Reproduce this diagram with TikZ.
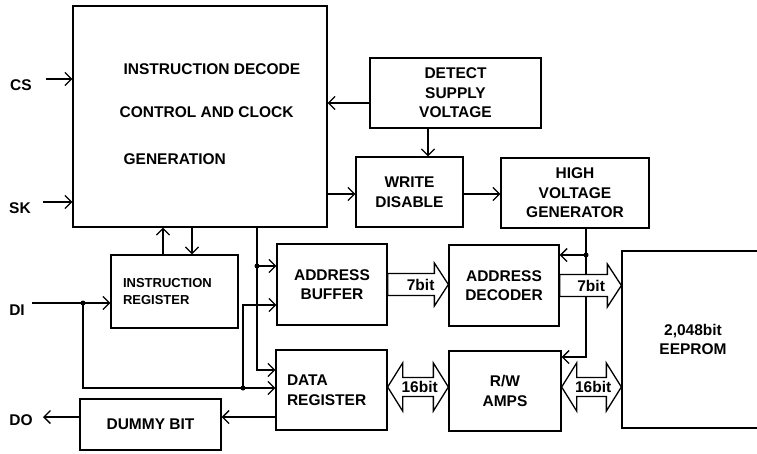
\documentclass[tikz,border=0pt]{standalone}
\usepackage{fontspec}
\setmainfont{Liberation Sans}
\usetikzlibrary{arrows.meta,calc}
\begin{document}
\begin{tikzpicture}[x=1pt,y=-1pt, line width=1.3pt,
 txt/.style={font=\fontsize{15.5}{19.5}\selectfont\bfseries},
 box/.style={draw, rectangle, inner sep=0pt, align=center, txt},
 lbl/.style={txt, inner sep=0pt},
 arr/.style={-{Straight Barb[length=6.5pt,width=13pt]}},
 dot/.style={circle, fill, inner sep=0pt, minimum size=5pt},
 fat/.style={draw, fill=white, line join=miter}]
\useasboundingbox (0,0) rectangle (757,453);
% boxes
\node[box, minimum width=254pt, minimum height=221pt] (main) at (200,116.5) {};
\node[lbl, anchor=west] (t1) at (123,69.5) {INSTRUCTION DECODE};
\node[lbl, anchor=west] (t2) at (119,112) {CONTROL AND CLOCK};
\node[lbl, anchor=west] (t3) at (123,159.5) {GENERATION};
\node[box, minimum width=171pt, minimum height=70pt] (detect) at (455.5,93) {DETECT\\SUPPLY\\VOLTAGE};
\node[box, minimum width=107pt, minimum height=70pt] (write) at (409.5,192) {WRITE\\DISABLE};
\node[box, minimum width=148pt, minimum height=70pt] (hv) at (575,193) {HIGH\\VOLTAGE\\GENERATOR};
\node[box, minimum width=127pt, minimum height=73pt, align=left, text width=103pt, inner xsep=12pt,
      font=\fontsize{13}{17}\selectfont\bfseries] (ir) at (174.5,291.5) {INSTRUCTION\\REGISTER};
\node[box, minimum width=110pt, minimum height=81pt] (ab) at (332,284.5) {ADDRESS\\BUFFER};
\node[box, minimum width=110pt, minimum height=81pt] (ad) at (504,285.5) {ADDRESS\\DECODER};
\node[box, minimum width=111pt, minimum height=80pt, align=left, text width=89pt, inner xsep=11pt] (dr) at (331.5,390) {DATA\\REGISTER};
\node[box, minimum width=112pt, minimum height=80pt] (rw) at (505,391) {R/W\\AMPS};
\node[box, minimum width=142pt, minimum height=177pt] (ee) at (693,339.5) {2,048bit\\EEPROM};
\node[box, minimum width=141pt, minimum height=51pt] (dummy) at (150.5,424.5) {DUMMY BIT};
% pin labels
\node[lbl] (CS) at (21,85) {CS};
\node[lbl] (SK) at (20,208) {SK};
\node[lbl] (DI) at (17,310) {DI};
\node[lbl] (DO) at (21,420) {DO};
% helper coordinates
\coordinate (csin) at (46,79);
\coordinate (skin) at (43,202);
\coordinate (diin) at (32,303);
\coordinate (doout) at (43,417);
\node[dot] (j1) at (83,303) {};
\node[dot] (j2) at (243,388) {};
\node[dot] (j3) at (257,266) {};
\node[dot] (j4) at (586,255) {};
\coordinate (irup) at ($(ir.north)+(-11.5,0)$);
\coordinate (irdn) at ($(ir.north)+(17.5,0)$);
\coordinate (drout) at ($(dr.west)+(0,27)$);
\coordinate (dmout) at ($(dummy.west)+(0,-7.5)$);
\coordinate (dsout) at ($(detect.west)+(0,10)$);
\coordinate (dsdn) at ($(detect.south)+(-27.5,0)$);
\coordinate (wdin) at ($(write.west)+(0,2)$);
\coordinate (wdout) at ($(write.east)+(0,2)$);
\coordinate (hvd) at ($(hv.south)+(11,0)$);
% connectors
\draw[arr] (csin) -- (csin -| main.west);
\draw[arr] (skin) -- (skin -| main.west);
\draw[arr] (diin) -- (j1.center) -- (j1.center -| ir.west);
\draw[arr] (j1.center) |- (dr.west |- j2.center);
\draw[arr] (j2.center) |- ($(ab.west)+(0,20.5)$);
\draw[arr] (j3.center |- main.south) |- ($(dr.west)+(0,-20)$);
\draw[arr] (j3.center) -- (j3.center -| ab.west);
\draw[arr] (irup) -- (irup |- main.south);
\draw[arr] (irdn |- main.south) -- (irdn);
\draw[arr] (drout) -- (drout -| dummy.east);
\draw[arr] (dmout) -- (doout);
\draw[arr] (dsout) -- (dsout -| main.east);
\draw[arr] (dsdn) -- (dsdn |- write.north);
\draw[arr] (wdin -| main.east) -- (wdin);
\draw[arr] (wdout) -- (wdout -| hv.west);
\draw[arr] (hvd) |- ($(rw.east)+(0,-34)$);
\draw[arr] (j4.center) -- (j4.center -| ad.east);
% fat bus arrows
\draw[fat] let \p1=(ab.east), \p2=(ad.west) in
  (\x1,\y1+11pt) -- (\x2-14pt,\y1+11pt) -- (\x2-14pt,\y1+21.5pt) -- (\x2,\y1)
  -- (\x2-14pt,\y1-21.5pt) -- (\x2-14pt,\y1-11pt) -- (\x1,\y1-11pt) -- cycle;
\draw[fat] let \p1=(ad.east), \p2=(ee.west) in
  (\x1,\y1+11pt) -- (\x2-14pt,\y1+11pt) -- (\x2-14pt,\y1+21.5pt) -- (\x2,\y1)
  -- (\x2-14pt,\y1-21.5pt) -- (\x2-14pt,\y1-11pt) -- (\x1,\y1-11pt) -- cycle;
\draw[fat] let \p1=($(dr.east)+(0,-3)$), \p2=(rw.west) in
  (\x1,\y1) -- (\x1+15pt,\y1+24pt) -- (\x1+15pt,\y1+9.5pt) -- (\x2-15pt,\y1+9.5pt)
  -- (\x2-15pt,\y1+24pt) -- (\x2,\y1) -- (\x2-15pt,\y1-24pt) -- (\x2-15pt,\y1-9.5pt)
  -- (\x1+15pt,\y1-9.5pt) -- (\x1+15pt,\y1-24pt) -- cycle;
\draw[fat] let \p1=($(rw.east)+(0,-4)$), \p2=(ee.west) in
  (\x1,\y1) -- (\x1+15pt,\y1+24pt) -- (\x1+15pt,\y1+9.5pt) -- (\x2-15pt,\y1+9.5pt)
  -- (\x2-15pt,\y1+24pt) -- (\x2,\y1) -- (\x2-15pt,\y1-24pt) -- (\x2-15pt,\y1-9.5pt)
  -- (\x1+15pt,\y1-9.5pt) -- (\x1+15pt,\y1-24pt) -- cycle;
\node[lbl] (b1) at ($(ab.east)+(33,0)$) {7bit};
\node[lbl] (b2) at ($(ad.east)+(31.5,0)$) {7bit};
\node[lbl] (b3) at ($(dr.east)+(32,-3)$) {16bit};
\node[lbl] (b4) at ($(rw.east)+(31.5,-4)$) {16bit};
\end{tikzpicture}
\end{document}
